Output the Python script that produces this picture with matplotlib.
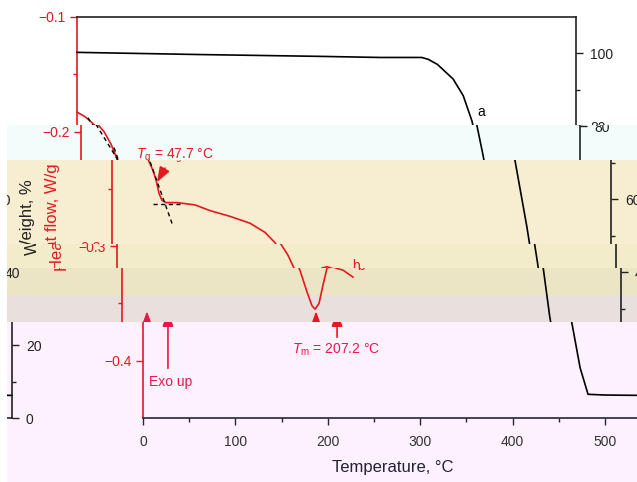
import matplotlib
matplotlib.use('Agg')
import matplotlib.pyplot as plt
from matplotlib.patches import Rectangle, FancyArrowPatch
from matplotlib.transforms import Bbox

plt.rcParams['font.family'] = ['Liberation Sans', 'DejaVu Sans']
plt.rcParams['mathtext.fontset'] = 'custom'
plt.rcParams['mathtext.rm'] = 'Liberation Sans'
plt.rcParams['mathtext.it'] = 'Liberation Sans:italic'

# DSC trace (heat flow, W/g)
dsc_temp = [0, 8.7, 17.3, 24.9, 32.5, 40.0, 44.4, 47.6, 50.9, 54.1, 58.4, 70.3, 89.8, 106.1,
            127.7, 149.4, 165.6, 176.4, 185.1, 192.6, 200.2, 205.6, 208.9, 213.2, 217.5,
            221.9, 227.3, 239.2, 250.0]
dsc_heat = [-0.183, -0.187, -0.193, -0.200, -0.211, -0.226, -0.234, -0.242, -0.254, -0.260,
            -0.262, -0.262, -0.264, -0.269, -0.274, -0.280, -0.288, -0.297, -0.308, -0.321,
            -0.340, -0.352, -0.355, -0.350, -0.334, -0.319, -0.318, -0.321, -0.327]

# TGA trace (weight, %)
tga_temp = [0, 133, 263, 328, 373, 380, 390, 407, 418, 427.5, 435, 449, 455, 463, 473, 481.6, 500, 540]
tga_weight = [100.3, 99.7, 99.2, 98.9, 98.9, 98.4, 97.0, 93.0, 88.4, 81.4, 72.2, 52.4, 42.7,
              27.6, 13.8, 6.5, 6.3, 6.2]

# tangent lines drawn for the glass transition
tan_temp = [[11.9, 40.0], [35.7, 66.0], [44.4, 73.6]]
tan_heat = [[-0.188, -0.225], [-0.214, -0.2825], [-0.2633, -0.2633]]

tg_value = 47.7
tm_value = 207.2

x_ticks = [0, 100, 200, 300, 400, 500]
dsc_ticks = [-0.4, -0.3, -0.2, -0.1]
weight_ticks = [0, 20, 40, 60, 80, 100]

RED = '#e3191f'
PINK = '#e8174a'
NAVY = '#25253a'

# figure size and the pixel box of the plot before the bands are shifted
W, H = 637, 482
AX_L, AX_R, AX_T, AX_B = 77, 576, 17, 418
WRAP = 630

# horizontal bands of the picture: top, bottom, shift to the right, tint
bands = [
    (0, 125, 0, '#ffffff'),
    (125, 160, 4, '#f1fcfb'),
    (160, 244, 35, '#f7edd1'),
    (244, 268, 40, '#f3ecca'),
    (268, 295, 45, '#ebe5c5'),
    (295, 322, 45, '#e8e0dc'),
    (322, 482, 66, '#fcf1fc'),
]


def add_arrow(ax, start, end, colour):
    ax.add_patch(FancyArrowPatch(start, end, arrowstyle='-|>,head_length=0.6,head_width=0.22',
                                 color=colour, lw=1.2, mutation_scale=15, shrinkA=0, shrinkB=0))


def draw_chart(fig, dx):
    ax = fig.add_axes([(AX_L + dx) / W, (H - AX_B) / H, (AX_R - AX_L) / W, (AX_B - AX_T) / H])
    ax.patch.set_visible(False)
    ax2 = ax.twinx()
    ax2.patch.set_visible(False)

    # DSC curve with tangents
    ax.plot(dsc_temp, dsc_heat, color=RED, lw=1.2)
    for xs, ys in zip(tan_temp, tan_heat):
        ax.plot(xs, ys, color='black', lw=1, ls=(0, (3, 2.5)))

    # TGA curve
    ax2.plot(tga_temp, tga_weight, color='black', lw=1.2)

    # annotations
    ax.text(101.7, -0.2214, f'$T_\\mathrm{{g}}$ = {tg_value} °C', color=RED, fontsize=10,
            ha='center', va='center')
    add_arrow(ax, (57.4, -0.2319), (48.7, -0.2441), RED)
    ax.text(208.9, -0.3908, f'$T_\\mathrm{{m}}$ = {tm_value} °C', color=PINK, fontsize=10,
            ha='center', va='center')
    add_arrow(ax, (210, -0.3795), (210, -0.3568), RED)
    ax.text(30.3, -0.4188, 'Exo up', color=PINK, fontsize=10, ha='center', va='center')
    add_arrow(ax, (27, -0.4066), (27, -0.3568), PINK)
    ax.text(258.7, -0.3175, 'b', color=RED, fontsize=10, ha='center', va='center')
    ax2.text(437, 84.0, 'a', color='black', fontsize=10, ha='center', va='center')

    # axes
    ax.set_xlim(0, 540)
    ax.set_ylim(-0.45, -0.1)
    ax2.set_ylim(1.62, 110.0)
    ax.set_xticks(x_ticks)
    ax.set_xticks([50, 150, 250, 350, 450], minor=True)
    ax.set_yticks(dsc_ticks)
    ax.set_yticklabels([f'{v:.1f}'.replace('-', '\u2212') for v in dsc_ticks])
    ax.set_yticks([-0.35, -0.25, -0.15], minor=True)
    ax2.set_yticks(weight_ticks)
    ax2.set_yticks([10, 30, 50, 70, 90], minor=True)

    ax.spines['left'].set_color(RED)
    ax.spines['right'].set_visible(False)
    ax.spines['top'].set_color('#222222')
    ax.spines['bottom'].set_color(NAVY)
    for side in ['left', 'top', 'bottom']:
        ax2.spines[side].set_visible(False)
    ax2.spines['right'].set_color('#222222')
    for a in (ax, ax2):
        for s in a.spines.values():
            s.set_linewidth(1.2)

    ax.tick_params(axis='y', which='both', colors=RED, direction='out', width=1, labelsize=10, pad=3)
    ax.tick_params(axis='x', which='both', colors=NAVY, labelcolor='#333333', direction='out',
                   width=1, labelsize=10, pad=7)
    ax2.tick_params(axis='y', which='both', colors='#222222', direction='out', width=1,
                    labelsize=10, pad=5)
    for a in (ax, ax2):
        a.tick_params(which='major', length=5)
        a.tick_params(which='minor', length=3)

    ax.set_xlabel('Temperature, °C', fontsize=12, color='#222233')
    ax.xaxis.set_label_coords(0.5, -0.105)
    ax.set_ylabel('Heat flow, W/g', fontsize=12, color=RED)
    ax.yaxis.set_label_coords(-0.104, 0.5)
    ax2.set_ylabel('Weight, %', fontsize=12, color='#222222')
    ax2.yaxis.set_label_coords(1.078, 0.5)
    return [ax, ax2]


fig = plt.figure(figsize=(W / 100, H / 100), dpi=100)
copies = []
for top, bot, dx, colour in bands:
    fig.add_artist(Rectangle((7 / W, 1 - bot / H), (W - 7) / W, (bot - top) / H,
                             transform=fig.transFigure, facecolor=colour, edgecolor='none',
                             zorder=-10))
    clip = Bbox.from_extents(7, H - bot, W, H - top)
    shifts = [dx] if dx == 0 else [dx, dx - WRAP]
    for s in shifts:
        copies.append((draw_chart(fig, s), clip))

# ticks exist only after a first draw, then every piece is clipped to its band
fig.canvas.draw()
for axes, clip in copies:
    for a in axes:
        for art in a.findobj():
            art.set_clip_box(clip)
            art.set_clip_on(True)

fig.savefig('out.png', dpi=100)
